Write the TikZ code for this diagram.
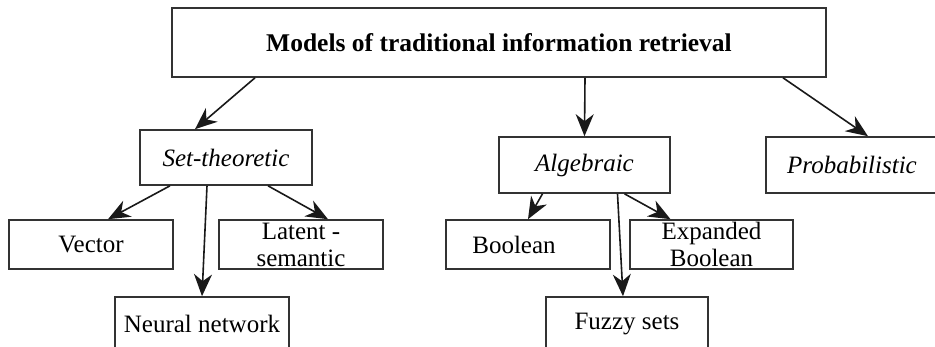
\documentclass[tikz,border=0pt]{standalone}
\usepackage{fontspec}
\setmainfont{Liberation Serif}
\usetikzlibrary{arrows.meta,positioning}

\begin{document}
\begin{tikzpicture}[line width=1.6pt, x=1pt, y=-1pt,
                    link/.style={draw=black!90, -{Stealth[length=22pt,width=18pt,inset=7pt]}}]
\tikzstyle{every node}=[font=\fontsize{25}{27}\selectfont, inner sep=0pt, align=center]
\tikzstyle{box}=[draw=black!80, rectangle, minimum height=49, minimum width=164]

\clip (0,0) rectangle (935,346);

\node [box, minimum width=654, minimum height=69, font=\fontsize{25.5}{27}\selectfont\bfseries] (top) at (499,42.5) {Models of traditional information retrieval};

\node [box, minimum width=172, minimum height=55] (set) at (226,157.5) {\itshape Set-theoretic};
\node [box, minimum width=171, minimum height=56] (alg) at (584.5,165) {\itshape Algebraic};
\node [box, minimum width=172, minimum height=56] (prob) at (852,165) {\itshape Probabilistic};

\node [box] (vector) at (91,244.5) {Vector};
\node [box] (latent) at (301,244.5) {Latent -\\semantic};
\node [box, minimum width=174, minimum height=54] (neural) at (202,324) {Neural network};

\node [box] (boolean) at (528,244.5) {\hspace*{-28pt}Boolean};
\node [box, minimum width=163] (expanded) at (711.5,244.5) {Expanded\\Boolean};
\node [box, minimum width=162, minimum height=54] (fuzzy) at (627,324) {Fuzzy sets};

\draw[link] ([xshift=-244pt]top.south) -- ([xshift=-31pt]set.north);
\draw[link] ([xshift=86pt]top.south) -- (alg.north);
\draw[link] ([xshift=284pt]top.south) -- ([xshift=16pt]prob.north);

\draw[link] ([xshift=-56pt]set.south) -- ([xshift=17pt]vector.north);
\draw[link] ([xshift=-19pt]set.south) -- (neural.north);
\draw[link] ([xshift=42pt]set.south) -- ([xshift=27pt]latent.north);

\draw[link] ([xshift=-42pt]alg.south) -- (boolean.north);
\draw[link] ([xshift=33pt]alg.south) -- ([xshift=-4pt]fuzzy.north);
\draw[link] ([xshift=40pt]alg.south) -- ([xshift=-41pt]expanded.north);
\end{tikzpicture}
\end{document}
